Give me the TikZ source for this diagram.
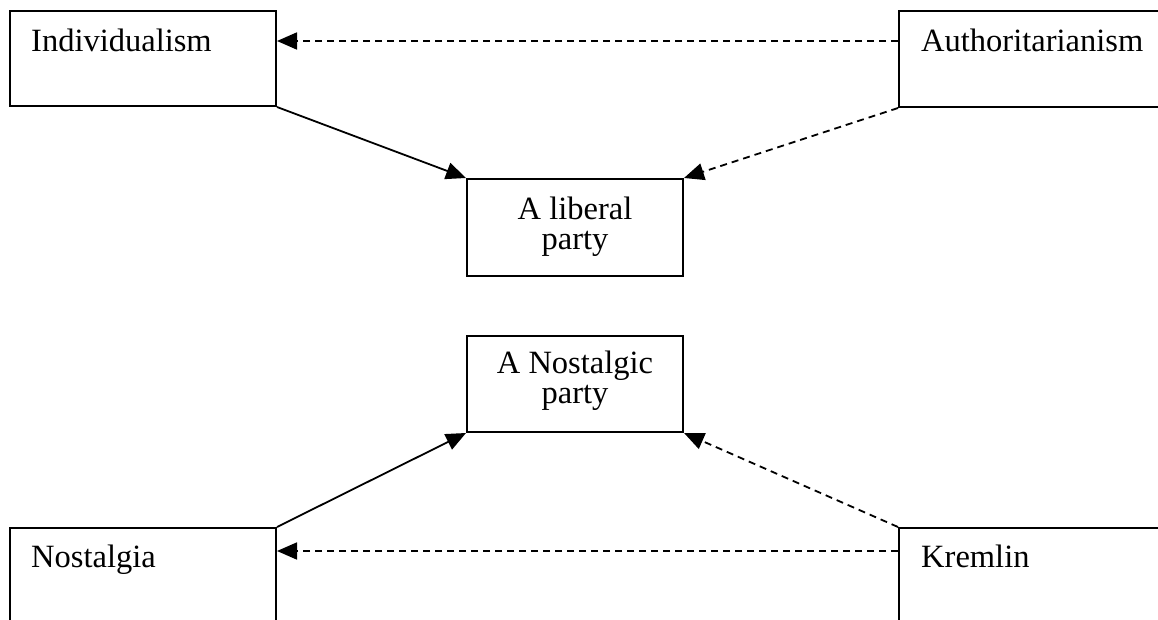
\documentclass[tikz,border=0pt]{standalone}
\usepackage{fontspec}
\setmainfont{Liberation Serif}
\usetikzlibrary{arrows.meta}
\begin{document}
\begin{tikzpicture}[x=1pt,y=-1pt,
  box/.style={draw,line width=2pt,rectangle,inner sep=0pt},
  label/.style={inner sep=0pt,font=\fontsize{32.5}{30}\selectfont},
  link/.style={line width=1.8pt,-{Triangle[length=20pt,width=17pt]}},
  dashlink/.style={link,dash pattern=on 7pt off 5pt}]
\useasboundingbox (0,0) rectangle (1158,620);
% boxes
\node[box,minimum width=266pt,minimum height=95pt] (ind) at (143,58.5) {};
\node[box,minimum width=271pt,minimum height=96pt] (auth) at (1034.5,59) {};
\node[box,minimum width=216pt,minimum height=97pt] (lib) at (575,227.5) {};
\node[box,minimum width=216pt,minimum height=96pt] (nost) at (575,384) {};
\node[box,minimum width=266pt,minimum height=96pt] (nos) at (143,576) {};
\node[box,minimum width=271pt,minimum height=96pt] (krem) at (1034.5,576) {};
% labels
\node[label,anchor=base west] (indtxt) at (31,52) {Individualism};
\node[label,anchor=base west] (authtxt) at (921,52) {Authoritarianism};
\node[label,anchor=base] (libtxt1) at (575,220) {A liberal};
\node[label,anchor=base] (libtxt2) at (575,250) {party};
\node[label,anchor=base] (nosttxt1) at (575,373) {A Nostalgic};
\node[label,anchor=base] (nosttxt2) at (575,403) {party};
\node[label,anchor=base west] (nostxt) at (31,567) {Nostalgia};
\node[label,anchor=base west] (kremtxt) at (921,567) {Kremlin};
% connectors
\draw[dashlink] ([yshift=-31pt]auth.north west) -- ([yshift=-31pt]ind.north east);
\draw[link] (ind.south east) -- (lib.north west);
\draw[dashlink] (auth.south west) -- (lib.north east);
\draw[link] (nos.north east) -- (nost.south west);
\draw[dashlink] (krem.north west) -- (nost.south east);
\draw[dashlink] ([yshift=-24pt]krem.north west) -- ([yshift=-24pt]nos.north east);
\end{tikzpicture}
\end{document}
